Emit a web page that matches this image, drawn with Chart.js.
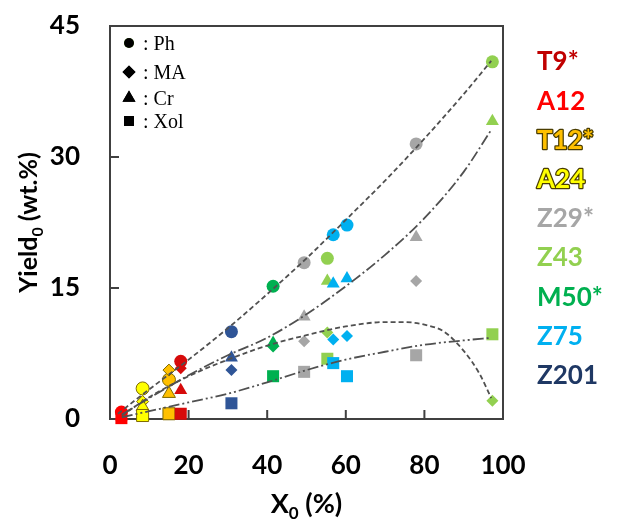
<!DOCTYPE html>
<html lang="en">
<head>
<meta charset="UTF-8">
<title>Yield vs X0</title>
<style>
  html, body { margin: 0; padding: 0; background: #fff; }
  #wrap { width: 617px; height: 521px; }
</style>
</head>
<body>
<div id="wrap"><canvas id="myChart" width="617" height="521"></canvas></div>
<script src="https://cdn.jsdelivr.net/npm/chart.js@4.4.1/dist/chart.umd.min.js"></script>
<script>
// catalysts (right-hand legend) and their colours
var catalysts = ['T9*', 'A12', 'T12*', 'A24', 'Z29*', 'Z43', 'M50*', 'Z75', 'Z201'];
var catColors = ['#c00000', '#ff0000', '#ffc000', '#ffff00', '#a6a6a6', '#92d050', '#00b050', '#00b0f0', '#1f3864'];
var markColors = ['#d60a0a', '#ff0000', '#ffc000', '#ffff00', '#a6a6a6', '#92d050', '#00b050', '#00b0f0', '#2f5597'];

// one entry per experiment: catalyst, conversion and product yields
var pointCat = ['A12', 'A24', 'T12*', 'T9*', 'Z201', 'M50*', 'Z29*', 'Z43', 'Z75', 'Z75', 'Z29*', 'Z43'];
var pointX0 = [2.9, 8.3, 15.0, 18.0, 30.9, 41.5, 49.4, 55.3, 56.8, 60.3, 77.9, 97.3];
var yieldPh = [0.8, 3.5, 4.5, 6.6, 10.0, 15.2, 17.9, 18.4, 21.1, 22.2, 31.5, 40.9];
var yieldMA = [0.5, 2.0, 5.6, 5.8, 5.6, 8.3, 8.9, 9.9, 9.1, 9.5, 15.8, 2.1];
var yieldCr = [0.3, 1.4, 2.9, 3.3, 7.0, 8.7, 11.7, 15.8, 15.5, 16.1, 20.8, 34.1];
var yieldXol = [0.1, 0.4, 0.6, 0.6, 1.8, 4.9, 5.4, 6.9, 6.4, 4.9, 7.3, 9.7];

// trend curves
var phFitX = [2, 10, 20, 30, 40, 50, 60, 70, 80, 90, 97];
var phFitY = [0.6, 3.4, 6.8, 10.4, 14.3, 18.4, 22.8, 27.3, 32.1, 37.2, 41.0];
var crFitX = [3, 10, 20, 30, 40, 50, 60, 70, 80, 90, 97];
var crFitY = [0.5, 2.4, 5.0, 7.3, 9.3, 12.0, 15.2, 18.8, 23.0, 28.3, 33.1];
var maFitX = [3, 10, 20, 30, 40, 50, 60, 70, 75, 80, 85, 90, 94, 97];
var maFitY = [0.4, 2.5, 4.9, 6.8, 8.4, 9.6, 10.6, 11.1, 11.1, 10.8, 10.0, 7.8, 5.2, 2.4];
var xolFitX = [3, 10, 20, 30, 40, 50, 60, 70, 80, 90, 97];
var xolFitY = [0.2, 0.9, 1.9, 2.9, 4.2, 5.6, 6.8, 7.7, 8.5, 9.0, 9.3];

var xTicks = [0, 20, 40, 60, 80, 100];
var yTicks = [0, 15, 30, 45];

var productNames = [': Ph', ': MA', ': Cr', ': Xol'];
var productStyles = ['circle', 'rectRot', 'triangle', 'rect'];

var FONT = 'Lato';
var AXIS_COLOR = '#404040';

function colorOf(cat) {
    return markColors[catalysts.indexOf(cat)];
}

function toXY(xs, ys) {
    return xs.map(function (x, i) { return { x: x, y: ys[i] }; });
}

function scatterSet(label, ys, style, radius) {
    return {
        type: 'scatter',
        label: label,
        data: toXY(pointX0, ys),
        pointStyle: style,
        pointRadius: radius,
        pointHoverRadius: radius,
        pointBackgroundColor: pointCat.map(colorOf),
        pointBorderColor: pointCat.map(function (c) {
            return (c === 'A24' || c === 'T12*') ? '#7f6a00' : colorOf(c);
        }),
        pointBorderWidth: pointCat.map(function (c) {
            return (c === 'A24' || c === 'T12*') ? 1 : 0;
        }),
        order: 2,
        clip: false
    };
}

function fitSet(label, xs, ys, dash) {
    return {
        type: 'line',
        label: label,
        data: toXY(xs, ys),
        borderColor: '#505050',
        borderWidth: 1.8,
        borderDash: dash,
        pointRadius: 0,
        fill: false,
        cubicInterpolationMode: 'monotone',
        order: 1,
        clip: false
    };
}

var datasets = [
    fitSet('Ph fit', phFitX, phFitY, [5, 3]),
    fitSet('Cr fit', crFitX, crFitY, [11, 3, 2, 3]),
    fitSet('MA fit', maFitX, maFitY, [5, 3]),
    fitSet('Xol fit', xolFitX, xolFitY, [11, 3, 2, 3, 2, 3]),
    scatterSet('Xol', yieldXol, 'rect', 8.5),
    scatterSet('Cr', yieldCr, 'triangle', 7.5),
    scatterSet('MA', yieldMA, 'rectRot', 6),
    scatterSet('Ph', yieldPh, 'circle', 6.5)
];

// frame and inward tick marks, under the markers
var framePlugin = {
    id: 'frame',
    beforeDatasetsDraw: function (chart) {
        var ctx = chart.ctx, a = chart.chartArea;
        var xs = chart.scales.x, ys = chart.scales.y;
        ctx.save();
        ctx.strokeStyle = AXIS_COLOR;
        ctx.lineWidth = 2;
        ctx.strokeRect(a.left, a.top, a.right - a.left, a.bottom - a.top);
        ctx.beginPath();
        xTicks.slice(1, -1).forEach(function (v) {
            var px = xs.getPixelForValue(v);
            ctx.moveTo(px, a.bottom);
            ctx.lineTo(px, a.bottom - 9);
        });
        yTicks.slice(1, -1).forEach(function (v) {
            var py = ys.getPixelForValue(v);
            ctx.moveTo(a.left, py);
            ctx.lineTo(a.left + 9, py);
        });
        ctx.stroke();
        ctx.restore();
    },
    afterDraw: function (chart) {
        var ctx = chart.ctx, a = chart.chartArea;
        ctx.save();

        // product legend inside the plot
        var rows = [43, 72, 98, 121];
        productStyles.forEach(function (st, i) {
            var r = [5, 6.5, 7.5, 7][i];
            Chart.helpers.drawPoint(ctx, {
                pointStyle: st, radius: r, borderWidth: 0
            }, 129, rows[i]);
            ctx.fillStyle = '#000';
            ctx.fill();
            ctx.font = '20px "Liberation Serif"';
            ctx.textBaseline = 'middle';
            ctx.textAlign = 'left';
            ctx.fillText(productNames[i], 143, rows[i] + 2);
        });

        // catalyst legend on the right
        ctx.font = 'bold 26px ' + FONT;
        ctx.textBaseline = 'middle';
        ctx.textAlign = 'left';
        catalysts.forEach(function (c, i) {
            var y = 62 + i * 39.2;
            if (c === 'T12*' || c === 'A24') {
                ctx.lineWidth = 2.5;
                ctx.strokeStyle = '#4a3d00';
                ctx.lineJoin = 'round';
                ctx.strokeText(c, 537, y);
            }
            ctx.fillStyle = catColors[i];
            ctx.fillText(c, 537, y);
        });

        // x title with subscript
        ctx.fillStyle = '#000';
        ctx.textBaseline = 'alphabetic';
        var big = 'bold 27px ' + FONT, small = 'bold 17px ' + FONT;
        var parts = [['X', big, 0], ['0', small, 6], [' (%)', big, 0]];
        drawParts(ctx, parts, (a.left + a.right) / 2, 513);

        // y title, rotated
        var bigY = 'bold 25px ' + FONT, smallY = 'bold 16px ' + FONT;
        ctx.translate(37, (a.top + a.bottom) / 2);
        ctx.rotate(-Math.PI / 2);
        drawParts(ctx, [['Yield', bigY, 0], ['0', smallY, 6], [' (wt.%)', bigY, 0]], 0, 0);
        ctx.restore();
    }
};

function drawParts(ctx, parts, cx, baseY) {
    var total = 0;
    parts.forEach(function (p) { ctx.font = p[1]; total += ctx.measureText(p[0]).width; });
    var x = cx - total / 2;
    ctx.textAlign = 'left';
    parts.forEach(function (p) {
        ctx.font = p[1];
        ctx.fillText(p[0], x, baseY + p[2]);
        x += ctx.measureText(p[0]).width;
    });
}

var ctx = document.getElementById('myChart');
var myChart = new Chart(ctx, {
    data: { datasets: datasets },
    options: {
        responsive: false,
        animation: false,
        layout: { padding: { left: 0, right: 114, top: 26, bottom: 0 } },
        plugins: {
            legend: { display: false },
            tooltip: { enabled: false }
        },
        scales: {
            x: {
                type: 'linear',
                min: 0, max: 100,
                grid: { display: false, drawTicks: false },
                border: { display: false },
                afterBuildTicks: function (s) { s.ticks = xTicks.map(function (v) { return { value: v }; }); },
                afterFit: function (s) {
                    s.height = 102;
                    s.paddingLeft = 0;
                    s.paddingRight = 0;
                },
                ticks: {
                    padding: 31,
                    color: '#000',
                    font: { family: FONT, size: 26, weight: 'bold' },
                    maxRotation: 0
                }
            },
            y: {
                min: 0, max: 45,
                grid: { display: false, drawTicks: false },
                border: { display: false },
                afterBuildTicks: function (s) { s.ticks = yTicks.map(function (v) { return { value: v }; }); },
                afterFit: function (s) {
                    s.width = 110;
                    s.paddingTop = 0;
                    s.paddingBottom = 0;
                },
                ticks: {
                    padding: 30,
                    color: '#000',
                    font: { family: FONT, size: 26, weight: 'bold' }
                }
            }
        }
    },
    plugins: [framePlugin]
});
</script>
</body>
</html>
